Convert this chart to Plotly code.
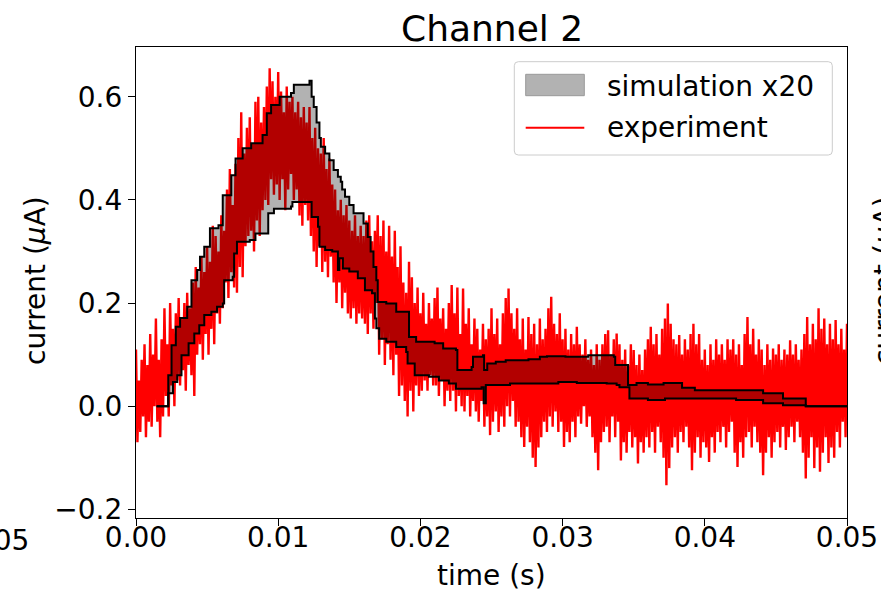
import numpy as np
import plotly.graph_objects as go

# ---------------- data ----------------
exp_current = [
    0.11, -0.07, 0.05, -0.05, 0.09, -0.02, 0.12, -0.06, 0.08, -0.03,
    0.14, -0.04, 0.10, 0.00, 0.17, -0.03, 0.09, -0.06, 0.13, -0.02,
    0.19, 0.02, 0.12, -0.02, 0.20, 0.04, 0.15, 0.00, 0.18, 0.05,
    0.21, 0.04, 0.17, 0.07, 0.20, 0.03, 0.22, 0.08, 0.19, 0.06,
    0.24, 0.02, 0.27, 0.10, 0.23, 0.12, 0.29, 0.09, 0.26, 0.14,
    0.31, 0.10, 0.28, 0.15, 0.35, 0.12, 0.33, 0.18, 0.30, 0.16,
    0.37, 0.19, 0.34, 0.24, 0.42, 0.21, 0.46, 0.26, 0.39, 0.23,
    0.47, 0.22, 0.52, 0.27, 0.57, 0.25, 0.49, 0.31, 0.54, 0.33,
    0.56, 0.34, 0.51, 0.30, 0.59, 0.36, 0.60, 0.33, 0.55, 0.38,
    0.58, 0.40, 0.62, 0.39, 0.655, 0.44, 0.63, 0.41, 0.60, 0.43,
    0.648, 0.40, 0.61, 0.44, 0.57, 0.38, 0.62, 0.42, 0.59, 0.45,
    0.60, 0.40, 0.57, 0.42, 0.59, 0.37, 0.56, 0.35, 0.58, 0.39,
    0.55, 0.36, 0.58, 0.33, 0.52, 0.30, 0.54, 0.27, 0.50, 0.31,
    0.49, 0.26, 0.52, 0.28, 0.46, 0.25, 0.48, 0.29, 0.43, 0.24,
    0.42, 0.20, 0.38, 0.24, 0.40, 0.19, 0.37, 0.22, 0.39, 0.18,
    0.36, 0.17, 0.34, 0.19, 0.37, 0.16, 0.33, 0.18, 0.35, 0.17,
    0.33, 0.16, 0.36, 0.14, 0.37, 0.18, 0.32, 0.15, 0.34, 0.20,
    0.37, 0.10, 0.33, 0.13, 0.36, 0.08, 0.30, 0.12, 0.35, 0.09,
    0.29, 0.06, 0.34, 0.10, 0.27, 0.02, 0.31, 0.04, 0.24, 0.01,
    0.22, -0.02, 0.28, 0.03, 0.25, -0.01, 0.20, 0.04, 0.23, 0.02,
    0.18, 0.03, 0.22, 0.05, 0.16, 0.03, 0.20, 0.06, 0.17, 0.04,
    0.21, 0.04, 0.23, 0.02, 0.17, 0.05, 0.19, 0.00, 0.15, 0.03,
    0.20, 0.01, 0.235, 0.03, 0.18, -0.01, 0.23, 0.02, 0.14, 0.00,
    0.228, -0.01, 0.16, 0.02, 0.19, -0.02, 0.12, 0.01, 0.17, -0.01,
    0.15, -0.03, 0.11, 0.01, 0.16, -0.04, 0.13, -0.02, 0.15, -0.056,
    0.19, -0.03, 0.14, -0.01, 0.17, -0.05, 0.12, -0.02, 0.18, -0.04,
    0.21, 0.00, 0.228, -0.02, 0.18, 0.01, 0.15, -0.04, 0.19, -0.03,
    0.13, -0.06, 0.17, -0.079, 0.11, -0.04, 0.173, -0.07, 0.14, -0.10,
    0.16, -0.118, 0.12, -0.08, 0.17, -0.06, 0.13, -0.03, 0.15, -0.05,
    0.19, -0.02, 0.212, -0.04, 0.16, -0.01, 0.14, -0.05, 0.18, -0.03,
    0.13, -0.079, 0.15, -0.05, 0.11, -0.07, 0.14, -0.03, 0.12, -0.06,
    0.154, -0.02, 0.12, -0.034, 0.10, 0.00, 0.13, -0.04, 0.09, -0.02,
    0.11, -0.06, 0.08, -0.09, 0.12, -0.124, 0.09, -0.07, 0.12, -0.05,
    0.14, -0.04, 0.147, -0.07, 0.10, -0.02, 0.13, -0.06, 0.141, -0.03,
    0.12, -0.105, 0.09, -0.07, 0.11, -0.09, 0.08, -0.05, 0.12, -0.08,
    0.109, -0.06, 0.08, -0.111, 0.10, -0.07, 0.07, -0.09, 0.11, -0.06,
    0.13, -0.08, 0.154, -0.05, 0.12, -0.09, 0.14, -0.04, 0.10, -0.07,
    0.15, -0.10, 0.17, -0.153, 0.199, -0.12, 0.16, -0.08, 0.13, -0.06,
    0.12, -0.09, 0.138, -0.05, 0.10, -0.07, 0.13, -0.04, 0.11, -0.08,
    0.14, -0.124, 0.16, -0.09, 0.12, -0.06, 0.14, -0.10, 0.09, -0.07,
    0.11, -0.08, 0.08, -0.108, 0.12, -0.06, 0.09, -0.09, 0.13, -0.05,
    0.10, -0.07, 0.12, -0.04, 0.09, -0.08, 0.13, -0.05, 0.11, -0.03,
    0.13, -0.09, 0.10, -0.118, 0.12, -0.07, 0.08, -0.10, 0.14, -0.06,
    0.173, -0.05, 0.12, -0.08, 0.15, -0.04, 0.10, -0.07, 0.13, -0.09,
    0.11, -0.134, 0.08, -0.09, 0.12, -0.06, 0.09, -0.10, 0.112, -0.07,
    0.10, -0.05, 0.12, -0.08, 0.09, -0.04, 0.11, -0.085, 0.10, -0.06,
    0.128, -0.04, 0.10, -0.07, 0.12, -0.03, 0.09, -0.06, 0.11, -0.09,
    0.14, -0.14, 0.173, -0.10, 0.12, -0.06, 0.16, -0.12, 0.13, -0.08,
    0.19, -0.127, 0.15, -0.09, 0.17, -0.06, 0.12, -0.11, 0.16, -0.08,
    0.13, -0.10, 0.167, -0.05, 0.12, -0.08, 0.15, -0.03, 0.11, -0.06,
    0.16,
]
exp_time = np.linspace(0.0, 0.05, len(exp_current))

sim_hi_t = [0.00145, 0.00227, 0.0025, 0.0028, 0.0031, 0.0036, 0.0039, 0.0043, 0.0045, 0.0048,
            0.0052, 0.0058, 0.0061, 0.0067, 0.0070, 0.0075, 0.0081, 0.0089, 0.0092, 0.0095,
            0.0101, 0.0109, 0.0111, 0.0122, 0.01235, 0.0125, 0.0127, 0.0129, 0.0130, 0.0133,
            0.0136, 0.0139, 0.0142, 0.0144, 0.0145, 0.0147, 0.0150, 0.0153, 0.0160, 0.0163,
            0.0165, 0.0167, 0.0169, 0.0170, 0.0176, 0.0183, 0.0192, 0.0197, 0.0210, 0.0216,
            0.0225, 0.0226, 0.0236, 0.0237, 0.0244, 0.02448, 0.0247, 0.0253, 0.0260, 0.0276,
            0.0284, 0.0289, 0.0302, 0.0318, 0.0336, 0.0337, 0.0346, 0.0352, 0.0360, 0.0371,
            0.0384, 0.0393, 0.0441, 0.0455, 0.0471, 0.0500]
sim_hi = [0.0, 0.06, 0.118, 0.154, 0.171, 0.193, 0.244, 0.264, 0.29, 0.309,
          0.345, 0.351, 0.409, 0.448, 0.48, 0.50, 0.51, 0.526, 0.568, 0.584,
          0.60, 0.607, 0.623, 0.631, 0.60, 0.58, 0.55, 0.52, 0.503, 0.49,
          0.477, 0.458, 0.445, 0.435, 0.42, 0.406, 0.39, 0.374, 0.354, 0.328,
          0.30, 0.27, 0.244, 0.202, 0.199, 0.183, 0.134, 0.125, 0.122, 0.112,
          0.109, 0.07, 0.076, 0.096, 0.099, 0.07, 0.083, 0.086, 0.089, 0.091,
          0.096, 0.097, 0.096, 0.099, 0.096, 0.08, 0.041, 0.045, 0.042, 0.045,
          0.036, 0.031, 0.025, 0.015, 0.0, 0.0]

sim_lo_t = [0.00145, 0.00227, 0.0026, 0.0029, 0.0032, 0.0037, 0.0041, 0.00445, 0.0048, 0.0053,
            0.0057, 0.0061, 0.0062, 0.0068, 0.0069, 0.0071, 0.0080, 0.0084, 0.0093, 0.0097,
            0.0109, 0.0110, 0.0122, 0.01235, 0.0128, 0.0129, 0.0133, 0.0138, 0.0142, 0.0143,
            0.01455, 0.0150, 0.0156, 0.0161, 0.0166, 0.0168, 0.0169, 0.0171, 0.0176, 0.0183,
            0.0190, 0.0191, 0.0196, 0.0206, 0.0213, 0.0220, 0.0225, 0.0243, 0.02445, 0.0246,
            0.0263, 0.0297, 0.0310, 0.0331, 0.0338, 0.0340, 0.0347, 0.0360, 0.0372, 0.0422,
            0.0441, 0.0455, 0.0471, 0.0500]
sim_lo = [0.0, 0.025, 0.047, 0.06, 0.099, 0.122, 0.141, 0.157, 0.177, 0.183,
          0.193, 0.199, 0.244, 0.251, 0.296, 0.319, 0.322, 0.335, 0.374, 0.383,
          0.387, 0.396, 0.396, 0.367, 0.348, 0.309, 0.303, 0.30, 0.264, 0.287,
          0.267, 0.261, 0.248, 0.225, 0.219, 0.17, 0.151, 0.131, 0.125, 0.115,
          0.105, 0.083, 0.06, 0.057, 0.05, 0.044, 0.034, 0.037, 0.006, 0.041,
          0.044, 0.047, 0.045, 0.044, 0.041, 0.037, 0.015, 0.012, 0.015, 0.012,
          0.006, 0.002, 0.0, 0.0]

x_ticks = [0.00, 0.01, 0.02, 0.03, 0.04, 0.05]
y_ticks = [-0.2, 0.0, 0.2, 0.4, 0.6]

# ---------------- figure ----------------
FONT = "DejaVu Sans"
W, H = 881, 589
L, R, T, B = 136, 34, 47, 71
PW, PH = W - L - R, H - T - B

def px(x):
    return (x - L) / PW

def py(y):
    return (H - B - y) / PH

fig = go.Figure()
fig.add_trace(go.Scatter(x=exp_time, y=exp_current, mode="lines",
                         line=dict(color="#ff0000", width=2.4), showlegend=False))
fig.add_trace(go.Scatter(x=sim_lo_t, y=sim_lo, mode="lines", line_shape="hv",
                         line=dict(color="black", width=2), showlegend=False))
fig.add_trace(go.Scatter(x=sim_hi_t, y=sim_hi, mode="lines", line_shape="hv",
                         line=dict(color="black", width=2), fill="tonexty",
                         fillcolor="rgba(0,0,0,0.3)", showlegend=False))

axis_common = dict(showline=True, linecolor="black", linewidth=1.2, mirror=True,
                   ticks="outside", ticklen=7, tickwidth=1.2, tickcolor="black",
                   showgrid=False, zeroline=False, automargin=False,
                   tickfont=dict(family=FONT, size=28, color="black"))
fig.update_xaxes(range=[0, 0.05], tickvals=x_ticks, tickformat=".2f",
                 ticklabelstandoff=-13, **axis_common)
fig.update_yaxes(range=[-0.2167, 0.6964], tickvals=y_ticks, tickformat=".1f", **axis_common)

# legend box (manual, matplotlib style)
bx0, bx1, by0, by1 = px(514.3), px(832.3), py(155), py(61.7)
rx, ry = 4 / PW, 4 / PH
path = (f"M {bx0+rx},{by0} L {bx1-rx},{by0} Q {bx1},{by0} {bx1},{by0+ry} "
        f"L {bx1},{by1-ry} Q {bx1},{by1} {bx1-rx},{by1} L {bx0+rx},{by1} "
        f"Q {bx0},{by1} {bx0},{by1-ry} L {bx0},{by0+ry} Q {bx0},{by0} {bx0+rx},{by0} Z")
shapes = [
    dict(type="path", xref="paper", yref="paper", path=path,
         fillcolor="rgba(255,255,255,0.8)", line=dict(color="#cccccc", width=1)),
    dict(type="rect", xref="paper", yref="paper", x0=px(525.7), x1=px(584.3),
         y0=py(95.7), y1=py(74.3), fillcolor="#b2b2b2", line=dict(color="#999999", width=1)),
    dict(type="line", xref="paper", yref="paper", x0=px(525.7), x1=px(584.3),
         y0=py(127.7), y1=py(127.7), line=dict(color="#ff0000", width=2)),
]

ann_font = dict(family=FONT, size=28, color="black")
annotations = [
    dict(text="simulation x20", x=px(605), y=py(86), xref="paper", yref="paper",
         xanchor="left", yanchor="middle", showarrow=False, font=ann_font),
    dict(text="experiment", x=px(605), y=py(128), xref="paper", yref="paper",
         xanchor="left", yanchor="middle", showarrow=False, font=ann_font),
    dict(text="Channel 2", x=0.5, y=py(28), xref="paper", yref="paper",
         xanchor="center", yanchor="middle", showarrow=False,
         font=dict(family=FONT, size=36, color="black")),
    dict(text="time (s)", x=0.5, y=py(575), xref="paper", yref="paper",
         xanchor="center", yanchor="middle", showarrow=False, font=ann_font),
    dict(text="current (<i>μ</i>A)", x=px(35), y=py(281), xref="paper", yref="paper",
         xanchor="center", yanchor="middle", textangle=-90, showarrow=False, font=ann_font),
    # fragments of neighbouring panels cut by the frame
    dict(text="0.05", x=px(31), y=py(540), xref="paper", yref="paper",
         xanchor="right", yanchor="middle", showarrow=False, font=ann_font),
    dict(text="current (<i>μ</i>A)", x=px(884), y=py(281), xref="paper", yref="paper",
         xanchor="center", yanchor="middle", textangle=-90, showarrow=False, font=ann_font),
]

fig.update_layout(width=W, height=H, margin=dict(l=L, r=R, t=T, b=B),
                  paper_bgcolor="white", plot_bgcolor="white",
                  font=dict(family=FONT, color="black"),
                  shapes=shapes, annotations=annotations, showlegend=False)

fig.write_html("out.html")
